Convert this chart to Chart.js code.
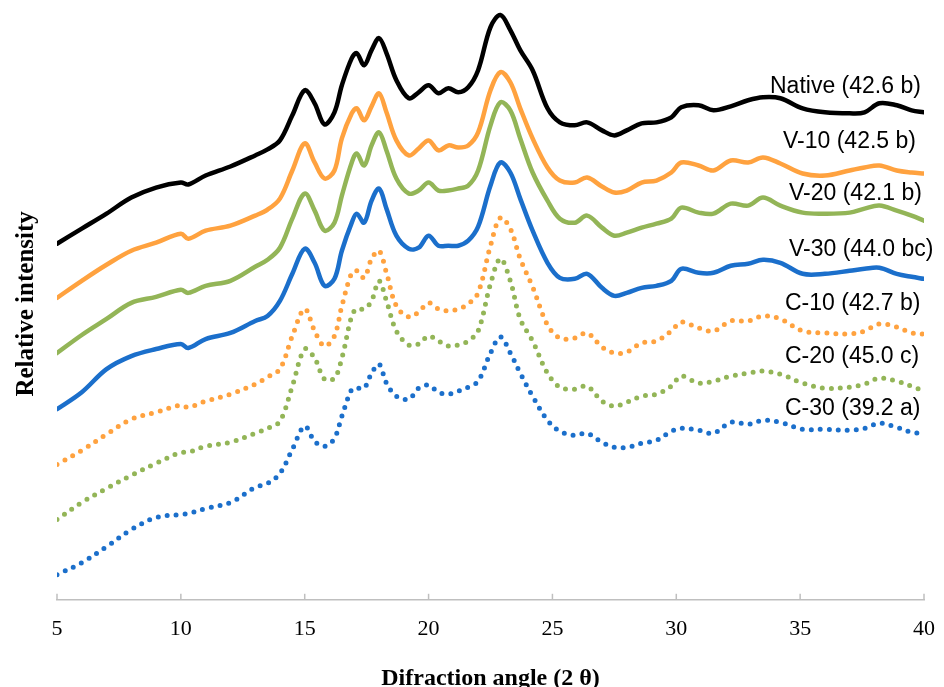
<!DOCTYPE html>
<html lang="en">
<head>
    <meta charset="UTF-8">
    <title>XRD patterns</title>
    <script src="https://cdn.jsdelivr.net/npm/chart.js"></script>
    <style>
        html, body { margin: 0; padding: 0; background: #fff; overflow: hidden; }
    </style>
</head>
<body>
    <canvas id="myChart" width="951" height="693"></canvas>

    <script>
        // diffraction angle (2 theta)
        var angles = [5, 6, 7, 8, 9, 10, 10.3, 11, 12, 13,
            13.5, 14, 14.5, 15, 15.4, 15.8, 16.2, 16.5, 16.9, 17.1,
            17.4, 17.7, 18, 18.3, 18.7, 19.2, 19.6, 20, 20.4, 20.8,
            21.2, 21.6, 22, 22.5, 22.9, 23.3, 23.7, 24.2, 24.8, 25.3,
            25.9, 26.4, 27, 27.5, 28, 28.6, 29.2, 29.8, 30.2, 30.9,
            31.5, 32.2, 32.9, 33.5, 34.2, 35.1, 36, 37, 37.6, 38.2,
            38.9, 39.5, 40];

        // relative intensity, curves stacked with an offset
        var native = [355, 370, 385, 401, 411, 416, 414, 423, 432, 443,
            449, 458, 483, 508, 495, 474, 486, 513, 540, 545,
            533, 548, 560, 545, 518, 500, 506, 513, 505, 510,
            506, 511, 528, 571, 583, 568, 548, 528, 490, 476,
            473, 476, 468, 463, 468, 475, 476, 481, 491, 493,
            488, 492, 498, 501, 500, 490, 486, 485, 486, 495,
            493, 488, 486];
        var v10 = [301, 318, 334, 348, 356, 365, 360, 368, 373, 383,
            389, 400, 428, 455, 436, 420, 428, 460, 485, 490,
            478, 492, 505, 486, 458, 443, 450, 458, 448, 453,
            451, 453, 466, 508, 526, 516, 490, 460, 431, 418,
            416, 421, 412, 406, 408, 416, 418, 426, 436, 433,
            428, 438, 436, 441, 435, 425, 423, 428, 431, 433,
            428, 426, 425];
        var v20 = [246, 264, 280, 296, 302, 309, 306, 313, 318, 332,
            339, 351, 380, 405, 388, 368, 376, 403, 436, 445,
            433, 453, 466, 448, 420, 405, 408, 416, 408, 408,
            410, 413, 428, 473, 496, 488, 460, 426, 398, 380,
            376, 383, 371, 363, 366, 371, 375, 380, 391, 386,
            385, 395, 393, 401, 393, 386, 385, 386, 390, 393,
            388, 383, 378];
        var v30 = [190, 207, 230, 243, 250, 255, 251, 260, 266, 278,
            283, 298, 325, 350, 336, 313, 320, 348, 376, 385,
            376, 398, 410, 390, 363, 350, 351, 363, 353, 353,
            353, 358, 372, 413, 436, 426, 400, 368, 336, 321,
            320, 325, 311, 303, 306, 311, 313, 318, 330, 326,
            326, 333, 335, 339, 336, 325, 325, 328, 330, 331,
            325, 322, 320];
        var c10 = [135, 149, 165, 180, 187, 194, 192, 198, 205, 215,
            222, 230, 263, 290, 268, 253, 263, 293, 326, 328,
            321, 340, 348, 326, 293, 282, 287, 296, 290, 288,
            290, 295, 306, 353, 381, 370, 340, 312, 274, 261,
            261, 266, 252, 246, 247, 256, 258, 268, 277, 271,
            268, 278, 278, 283, 280, 268, 266, 265, 268, 275,
            272, 266, 265];
        var c20 = [80, 97, 111, 124, 136, 147, 147, 153, 157, 166,
            171, 178, 213, 250, 241, 220, 221, 241, 283, 290,
            290, 298, 318, 298, 268, 254, 255, 263, 258, 253,
            254, 258, 268, 315, 340, 318, 280, 258, 226, 212,
            210, 213, 198, 193, 197, 203, 205, 213, 223, 216,
            218, 223, 226, 228, 225, 216, 211, 212, 215, 221,
            218, 213, 208];
        var c30 = [25, 37, 53, 70, 82, 85, 86, 91, 97, 112,
            116, 126, 150, 173, 158, 153, 161, 183, 210, 211,
            211, 226, 235, 216, 203, 200, 211, 214, 207, 205,
            208, 212, 218, 246, 262, 246, 226, 203, 179, 168,
            164, 166, 157, 152, 152, 156, 159, 168, 171, 169,
            166, 177, 175, 179, 177, 170, 170, 169, 171, 176,
            172, 167, 166];

        var seriesNames = ['Native (42.6 b)', 'V-10 (42.5 b)', 'V-20 (42.1 b)', 'V-30 (44.0 bc)',
            'C-10 (42.7 b)', 'C-20 (45.0 c)', 'C-30 (39.2 a)'];
        var xTicks = [5, 10, 15, 20, 25, 30, 35, 40];

        var seriesValues = [native, v10, v20, v30, c10, c20, c30];
        var colors = ['#000000', '#FFA23F', '#93B557', '#1B6FCB', '#FFA23F', '#93B557', '#1B6FCB'];
        var dotted = [false, false, false, false, true, true, true];
        // text box positions (left, baseline) like the Excel text boxes
        var labelPos = [[770, 93], [783, 148], [789, 200], [789, 256], [785, 310], [785, 363], [785, 415]];

        var datasets = seriesValues.map(function (vals, k) {
            return {
                label: seriesNames[k],
                data: angles.map(function (a, i) { return { x: a, y: vals[i] }; }),
                borderColor: colors[k],
                borderWidth: dotted[k] ? 5 : 4.5,
                borderDash: dotted[k] ? [0, 9] : [],
                borderCapStyle: 'round',
                borderJoinStyle: 'round',
                pointRadius: 0,
                tension: 0.35,
                fill: false
            };
        });

        // upward tick marks on the x axis + series names
        var extras = {
            id: 'extras',
            afterDraw: function (chart) {
                var ctx = chart.ctx;
                var xs = chart.scales.x;
                var bottom = chart.chartArea.bottom;
                ctx.save();
                ctx.strokeStyle = '#BFBFBF';
                ctx.lineWidth = 1.5;
                xTicks.forEach(function (t) {
                    var px = xs.getPixelForValue(t);
                    ctx.beginPath();
                    ctx.moveTo(px, bottom);
                    ctx.lineTo(px, bottom - 6);
                    ctx.stroke();
                });
                ctx.fillStyle = '#000';
                ctx.font = '23px "Liberation Sans", Arial, sans-serif';
                ctx.textAlign = 'left';
                ctx.textBaseline = 'alphabetic';
                seriesNames.forEach(function (name, k) {
                    ctx.fillText(name, labelPos[k][0], labelPos[k][1]);
                });
                ctx.restore();
            }
        };

        var ctx = document.getElementById('myChart').getContext('2d');
        var myChart = new Chart(ctx, {
            type: 'line',
            data: { datasets: datasets },
            options: {
                responsive: false,
                animation: false,
                layout: { padding: { left: 8, right: 14, top: 8, bottom: 0 } },
                plugins: {
                    legend: { display: false },
                    tooltip: { enabled: false }
                },
                scales: {
                    x: {
                        type: 'linear',
                        min: 5,
                        max: 40,
                        afterBuildTicks: function (axis) {
                            axis.ticks = xTicks.map(function (v) { return { value: v }; });
                        },
                        grid: { display: false, drawTicks: false },
                        border: { display: true, color: '#BFBFBF', width: 1.5 },
                        ticks: {
                            padding: 16,
                            color: '#000',
                            maxRotation: 0,
                            font: { family: '"Liberation Serif", "Times New Roman", serif', size: 22 }
                        },
                        title: {
                            display: true,
                            text: 'Difraction angle (2 θ)',
                            color: '#000',
                            padding: { top: 6, bottom: 0 },
                            font: { family: '"Liberation Serif", "Times New Roman", serif', size: 24, weight: 'bold' }
                        }
                    },
                    y: {
                        min: 0,
                        max: 590,
                        grid: { display: false, drawTicks: false },
                        border: { display: false },
                        ticks: { display: false },
                        title: {
                            display: true,
                            text: 'Relative intensity',
                            color: '#000',
                            padding: { top: 4, bottom: 15 },
                            font: { family: '"Liberation Serif", "Times New Roman", serif', size: 25, weight: 'bold' }
                        }
                    }
                }
            },
            plugins: [extras]
        });
    </script>
</body>
</html>
